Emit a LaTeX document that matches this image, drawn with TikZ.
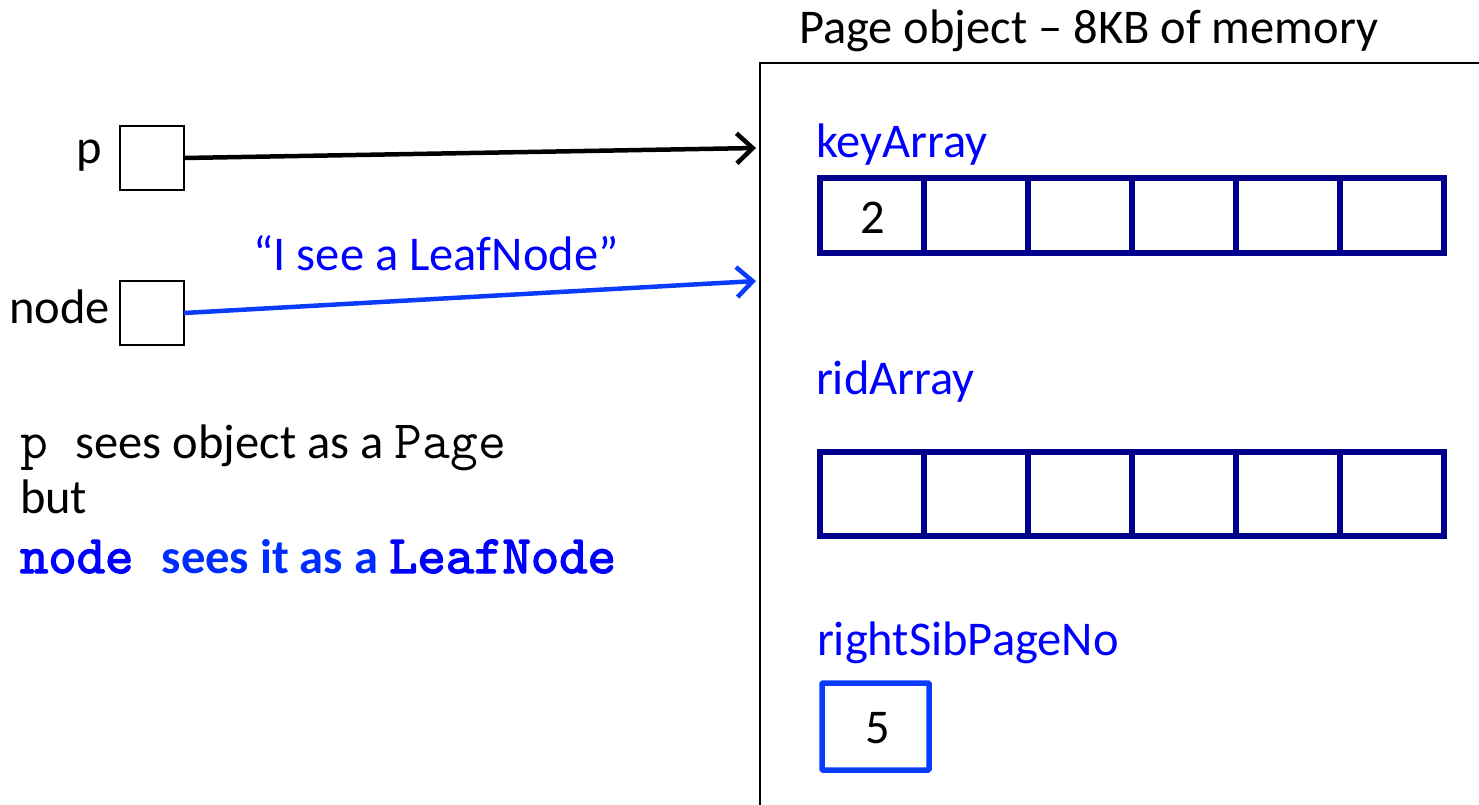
\documentclass[tikz,border=0pt]{standalone}
\usepackage{fontspec}
\setmainfont{Carlito}
\newfontfamily\lmbold[FakeBold=2.5]{lmmono10-regular.otf}
\usetikzlibrary{arrows.meta}
\definecolor{txtblue}{RGB}{0,0,255}
\definecolor{arrblue}{RGB}{10,60,255}
\definecolor{boldblue}{RGB}{0,45,255}
\definecolor{navy}{RGB}{0,0,140}
\newcommand\cour{\fontsize{54}{56}\selectfont\ttfamily}
\newcommand\courbf{\fontsize{54}{56}\selectfont\lmbold}
\begin{document}
\begin{tikzpicture}[x=1pt,y=-1pt,
  every node/.style={font=\fontsize{48.5}{56}\selectfont, inner sep=0pt, outer sep=0pt},
  ptrbox/.style={draw=black, line width=1.2pt, minimum width=64pt, minimum height=64pt, fill=white},
  cell/.style={draw=navy, line width=5.5pt, minimum width=104pt},
  keycell/.style={cell, minimum height=75pt},
  ridcell/.style={cell, minimum height=84pt},
  sibbox/.style={draw=arrblue, line width=5.5pt, minimum width=107pt, minimum height=87pt, rounded corners=1pt},
  ptr/.style={line width=4.5pt, -{Straight Barb[length=16pt,width=30pt,line width=4.5pt]}},
  lbl/.style={anchor=base west, text=txtblue}
]
\useasboundingbox (0,0) rectangle (1479,804);
\clip (0,0) rectangle (1479,804);

% page object frame
\draw[line width=2pt] (1500,63) -- (760,63) -- (760,830);
\node[anchor=base west] (title) at (799,43) {Page object -- 8KB of memory};
\coordinate (tipA) at (756,148);
\coordinate (tipB) at (756,281);

% pointer variables
\node[ptrbox] (pbox) at (152,158) {};
\node[ptrbox] (nbox) at (152,313) {};
\node[anchor=base east] (plbl) at (102,163) {p};
\node[anchor=base east] (nlbl) at (110,323) {node};

\draw[ptr, black] (pbox.east) -- (tipA);
\draw[ptr, arrblue] (nbox.east) -- (tipB);
\node[anchor=base, text=txtblue] (see) at (436,270) {“I see a LeafNode”};

% keyArray
\node[lbl] (keylbl) at (816,157) {keyArray};
\foreach \i in {1,...,6} {
  \node[keycell] (k\i) at ({820+104*(\i-0.5)},215.5) {};
}
\node[anchor=base] (two) at (873,233) {2};

% ridArray
\node[lbl] (ridlbl) at (816,394) {ridArray};
\foreach \i in {1,...,6} {
  \node[ridcell] (r\i) at ({820+104*(\i-0.5)},494) {};
}

% rightSibPageNo
\node[lbl] (siblbl) at (817,655) {rightSibPageNo};
\node[sibbox] (sib) at (875.5,726.5) {};
\node[anchor=base] (five) at (878,743) {5};

% explanatory text
\node[anchor=base west] (line1) at (20,458) {{\cour p }sees object as a {\cour Page}};
\node[anchor=base west] (line2) at (20,513) {but};
\node[anchor=base west, text=boldblue, font=\fontsize{48.5}{56}\selectfont\bfseries] (line3) at (20,573)
  {{\courbf\color{txtblue}node }sees it as a {\courbf\color{txtblue}LeafNode}};
\end{tikzpicture}
\end{document}
